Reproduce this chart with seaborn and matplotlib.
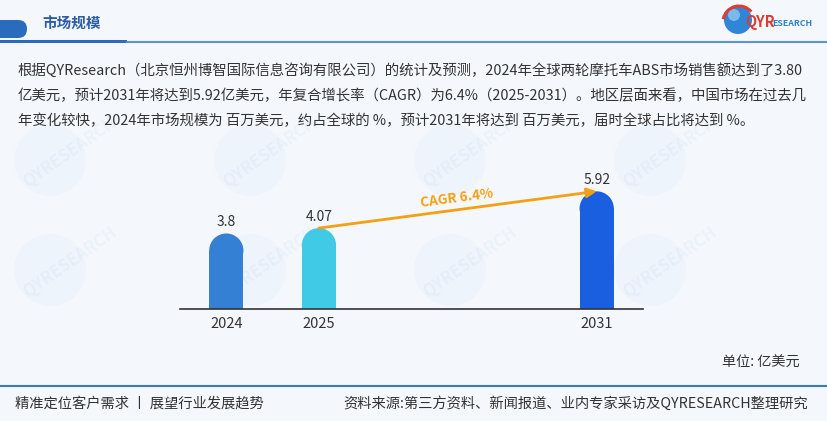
import numpy as np
import pandas as pd
import matplotlib
matplotlib.use('Agg')
import matplotlib.pyplot as plt
import seaborn as sns
from matplotlib.patches import Ellipse, FancyBboxPatch, Circle, Arc, Rectangle

# chart data
years = ['2024', '2025', '2031']
values = [3.8, 4.07, 5.92]
value_labels = ['3.8', '4.07', '5.92']
bar_colors = ['#3380D4', '#40CAE6', '#1A5FDF']
slots = ['2024', '2025', 'gap_a', 'gap_b', '2031']
cagr_label = 'CAGR 6.4%'

title = '市场规模'
body_lines = [
    '根据QYResearch（北京恒州博智国际信息咨询有限公司）的统计及预测，2024年全球两轮摩托车ABS市场销售额达到了3.80',
    '亿美元，预计2031年将达到5.92亿美元，年复合增长率（CAGR）为6.4%（2025-2031）。地区层面来看，中国市场在过去几',
    '年变化较快，2024年市场规模为 百万美元，约占全球的 %，预计2031年将达到 百万美元，届时全球占比将达到 %。',
]
unit_text = '单位: 亿美元'
footer_left = '精准定位客户需求 丨 展望行业发展趋势'
footer_right = '资料来源:第三方资料、新闻报道、业内专家采访及QYRESEARCH整理研究'

BG = '#F4F8FD'
DARK_BLUE = '#2A6BBE'
ORANGE = '#F5A012'
TXT = '#333333'

sns.set_theme(style='white')
plt.rcParams['font.family'] = ['Noto Sans CJK SC', 'DejaVu Sans']

fig = plt.figure(figsize=(8.28, 4.21), dpi=100, facecolor=BG)

# overlay in pixel coordinates for the page decoration
bg = fig.add_axes([0, 0, 1, 1], zorder=0)
bg.set_xlim(0, 828)
bg.set_ylim(421, 0)
bg.axis('off')

# faint watermarks
for wx in [50, 250, 450, 650]:
    for wy in [160, 270]:
        bg.add_patch(Circle((wx, wy), 36, color='#a9c9e8', alpha=0.07, lw=0))
        bg.text(wx + 20, wy - 8, 'QYRESEARCH', rotation=35, fontsize=12, color='#a9c9e8',
                alpha=0.12, ha='center', va='center', fontweight='bold')

# header
bg.add_patch(FancyBboxPatch((-20, 20), 47, 18, boxstyle='round,pad=0,rounding_size=9',
                            color=DARK_BLUE, lw=0))
bg.add_patch(Rectangle((0, 39.5), 127, 3.5, color=DARK_BLUE, lw=0))
bg.plot([127, 828], [42, 42], color='#5C93D3', lw=1.5)
bg.text(42, 24, title, fontsize=10.5, fontweight='bold', color='#2B5CA6', va='center', ha='left')

# logo
bg.add_patch(Circle((738, 20), 14, color='#2F86D6', lw=0))
bg.add_patch(Circle((734, 15), 6, color='#9CD0F2', alpha=0.7, lw=0))
bg.add_patch(Arc((739, 22), 32, 32, theta1=190, theta2=320, color='#E03A33', lw=2.2))
bg.text(745, 22, 'QYR', fontsize=10.5, fontweight='bold', color='#E03A33', va='center', ha='left')
bg.text(772, 23, 'ESEARCH', fontsize=6.3, fontweight='bold', color='#2E7FC8', va='center', ha='left')

# body text
for i, line in enumerate(body_lines):
    bg.text(18, 70 + 25.5 * i, line, fontsize=10.4, color=TXT, va='center', ha='left')

# unit and footer
bg.text(800, 363, unit_text, fontsize=10.2, color=TXT, va='center', ha='right')
bg.plot([0, 828], [385.5, 385.5], color='#3A78C4', lw=1.5)
bg.text(15, 404, footer_left, fontsize=10.3, color=TXT, va='center', ha='left')
bg.text(808, 404, footer_right, fontsize=10.3, color=TXT, va='center', ha='right')

# bar chart
ax = fig.add_axes([180 / 828, (421 - 309) / 421, 463 / 828, 159 / 421], zorder=2)
ax.set_facecolor('none')
df = pd.DataFrame({'year': years, 'value': values})
sns.barplot(data=df, x='year', y='value', order=slots, hue='year',
            palette=dict(zip(years, bar_colors)), saturation=1, width=0.37, legend=False,
            linewidth=0, ax=ax)
ax.set_xlim(-0.5, 4.5)
ax.set_ylim(0, 8.0)

# rounded caps
p0 = ax.transData.transform((0, 0))
p1 = ax.transData.transform((1, 1))
px_x, px_y = p1[0] - p0[0], p1[1] - p0[1]
for patch in list(ax.patches):
    h = patch.get_height()
    if h <= 0:
        continue
    w = patch.get_width()
    x0 = patch.get_x()
    ry = (w / 2 * px_x) / px_y
    patch.set_height(h - ry)
    ax.add_patch(Ellipse((x0 + w / 2, h - ry), w, 2 * ry, color=patch.get_facecolor(), lw=0))

xpos = [slots.index(y) for y in years]
for xp, v, lab in zip(xpos, values, value_labels):
    ax.annotate(lab, (xp, v), xytext=(0, 4), textcoords='offset pixels', ha='center',
                va='bottom', fontsize=10, color=TXT)

# CAGR arrow
ax.annotate('', xy=(xpos[2], values[2]), xytext=(xpos[1], values[1]),
            arrowprops=dict(arrowstyle='-|>', color=ORANGE, lw=2, mutation_scale=14,
                            shrinkA=0, shrinkB=0), zorder=5)
d0 = ax.transData.transform((xpos[1], values[1]))
d1 = ax.transData.transform((xpos[2], values[2]))
ang = np.degrees(np.arctan2(d1[1] - d0[1], d1[0] - d0[0]))
ax.text(2.49, 5.59, cagr_label, rotation=ang, rotation_mode='anchor', ha='center', va='center',
        fontsize=9.8, fontweight='bold', color=ORANGE)

ax.set_xticks(xpos)
ax.set_xticklabels(years, fontsize=10.5, color=TXT)
ax.tick_params(axis='x', length=0, pad=6)
ax.set_yticks([])
ax.set_xlabel('')
ax.set_ylabel('')
for s in ['left', 'right', 'top']:
    ax.spines[s].set_visible(False)
ax.spines['bottom'].set_color('#333333')
ax.spines['bottom'].set_linewidth(1.2)

fig.savefig('out.png', dpi=100, facecolor=BG)
